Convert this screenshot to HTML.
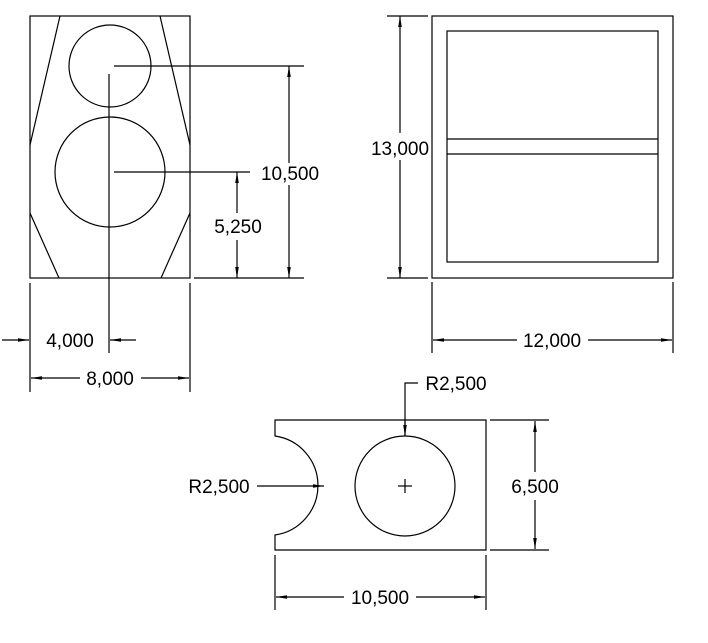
<!DOCTYPE html>
<html><head><style>html,body{margin:0;padding:0;background:#fff;}svg{display:block}</style></head>
<body>
<svg width="708" height="643" viewBox="0 0 708 643" xmlns="http://www.w3.org/2000/svg">
<defs>
<marker id="a" markerWidth="12" markerHeight="6" refX="11" refY="3" orient="auto" markerUnits="userSpaceOnUse">
<path d="M0,1.2 L11,3 L0,4.8 Z" fill="#000"/>
</marker>
</defs>
<g fill="none" stroke="#000" stroke-width="1.2">
<!-- left view -->
<rect x="30" y="16" width="160" height="262"/>
<line x1="60" y1="16" x2="30" y2="145"/>
<line x1="160" y1="16" x2="190" y2="145"/>
<line x1="30" y1="213" x2="59" y2="278"/>
<line x1="190" y1="213" x2="161" y2="278"/>
<circle cx="110" cy="66" r="41"/>
<circle cx="110" cy="172" r="55"/>
<line x1="109" y1="74" x2="109" y2="353"/>
<line x1="114" y1="66" x2="304" y2="66"/>
<line x1="114" y1="172" x2="250" y2="172"/>
<line x1="194" y1="278" x2="304" y2="278"/>
<line x1="289" y1="163" x2="289" y2="66" marker-end="url(#a)"/>
<line x1="289" y1="185" x2="289" y2="278" marker-end="url(#a)"/>
<line x1="237" y1="213" x2="237" y2="172" marker-end="url(#a)"/>
<line x1="237" y1="240" x2="237" y2="278" marker-end="url(#a)"/>
<line x1="30" y1="283" x2="30" y2="392"/>
<line x1="190" y1="283" x2="190" y2="392"/>
<line x1="2" y1="340" x2="29" y2="340" marker-end="url(#a)"/>
<line x1="136" y1="340" x2="110" y2="340" marker-end="url(#a)"/>
<line x1="80" y1="378" x2="31" y2="378" marker-end="url(#a)"/>
<line x1="141" y1="378" x2="189" y2="378" marker-end="url(#a)"/>
<!-- right view -->
<rect x="432" y="16" width="241" height="262"/>
<rect x="447" y="31" width="211" height="231"/>
<line x1="447" y1="139" x2="658" y2="139"/>
<line x1="447" y1="154" x2="658" y2="154"/>
<line x1="387" y1="16" x2="428" y2="16"/>
<line x1="387" y1="278" x2="428" y2="278"/>
<line x1="400" y1="133" x2="400" y2="16" marker-end="url(#a)"/>
<line x1="400" y1="160" x2="400" y2="278" marker-end="url(#a)"/>
<line x1="432" y1="282" x2="432" y2="353"/>
<line x1="673" y1="282" x2="673" y2="353"/>
<line x1="517" y1="340" x2="433" y2="340" marker-end="url(#a)"/>
<line x1="588" y1="340" x2="672" y2="340" marker-end="url(#a)"/>
<!-- bottom view -->
<path d="M275,420 L486,420 L486,550 L275,550 L275,535 A50,50 0 0 0 275,436 Z"/>
<circle cx="405" cy="486" r="50"/>
<line x1="398" y1="486" x2="412" y2="486"/>
<line x1="405" y1="479" x2="405" y2="493"/>
<polyline points="418,383 405,383 405,435" />
<line x1="405" y1="420" x2="405" y2="436" marker-end="url(#a)"/>
<line x1="257" y1="486" x2="324" y2="486" marker-end="url(#a)"/>
<line x1="490" y1="420" x2="549" y2="420"/>
<line x1="490" y1="550" x2="549" y2="550"/>
<line x1="535" y1="472" x2="535" y2="421" marker-end="url(#a)"/>
<line x1="535" y1="500" x2="535" y2="549" marker-end="url(#a)"/>
<line x1="275" y1="555" x2="275" y2="610"/>
<line x1="486" y1="555" x2="486" y2="610"/>
<line x1="344" y1="597" x2="276" y2="597" marker-end="url(#a)"/>
<line x1="416" y1="597" x2="485" y2="597" marker-end="url(#a)"/>
</g>
<g font-family="Liberation Sans, sans-serif" font-size="19" fill="#000" text-anchor="middle">
<text x="290" y="180">10,500</text>
<text x="238" y="233">5,250</text>
<text x="70" y="347">4,000</text>
<text x="110" y="385">8,000</text>
<text x="400" y="155">13,000</text>
<text x="552" y="347">12,000</text>
<text x="456" y="390">R2,500</text>
<text x="219" y="493">R2,500</text>
<text x="535" y="493">6,500</text>
<text x="380" y="604">10,500</text>
</g>
</svg>
</body></html>
